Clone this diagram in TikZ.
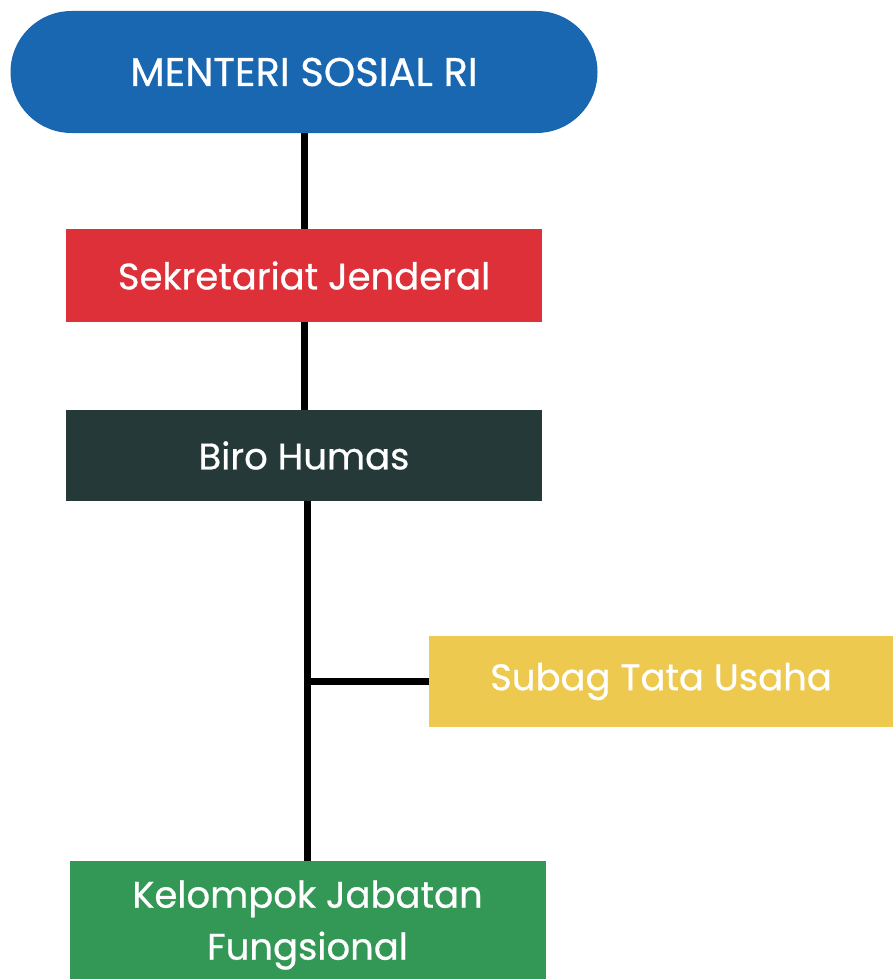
\documentclass[tikz,border=0pt]{standalone}
\usepackage{fontspec}
\setmainfont[FakeBold=0.6]{Poppins}
\definecolor{cblue}{HTML}{1967B0}
\definecolor{cred}{HTML}{DD3038}
\definecolor{cdark}{HTML}{243938}
\definecolor{cyellow}{HTML}{EEC94F}
\definecolor{cgreen}{HTML}{339855}
\begin{document}
\begin{tikzpicture}[x=1pt,y=-1pt,
  box/.style={rectangle, inner sep=0pt, text=white, font=\fontsize{37}{52}\selectfont, align=center},
  conn/.style={line width=7pt, draw=black}]
\useasboundingbox (0,0) rectangle (893,979);
\clip (0,0) rectangle (893,979);
\fill[white] (0,0) rectangle (893,979);
\node[box, fill=cblue, rounded corners=61pt, minimum width=587pt, minimum height=122pt, font=\fontsize{40}{52}\selectfont] (top) at (304,72) {MENTERI SOSIAL RI};
\node[box, fill=cred, minimum width=476pt, minimum height=93pt] (sek) at (304,275.5) {Sekretariat Jenderal};
\node[box, fill=cdark, minimum width=476pt, minimum height=91pt] (biro) at (304,455.5) {Biro Humas};
\node[box, fill=cyellow, minimum width=464pt, minimum height=91pt] (sub) at (661,681.5) {Subag Tata Usaha};
\node[box, fill=cgreen, minimum width=476pt, minimum height=128pt] (kel) at (307.5,925) {Kelompok Jabatan\\Fungsional};
\draw[conn] (top.south) -- (sek.north);
\draw[conn] (sek.south) -- (biro.north);
\draw[conn] (biro.south -| kel.north) -- (kel.north);
\draw[conn] (sub.west) -- ([xshift=-3.5pt]sub.west -| kel.north);
\end{tikzpicture}
\end{document}
